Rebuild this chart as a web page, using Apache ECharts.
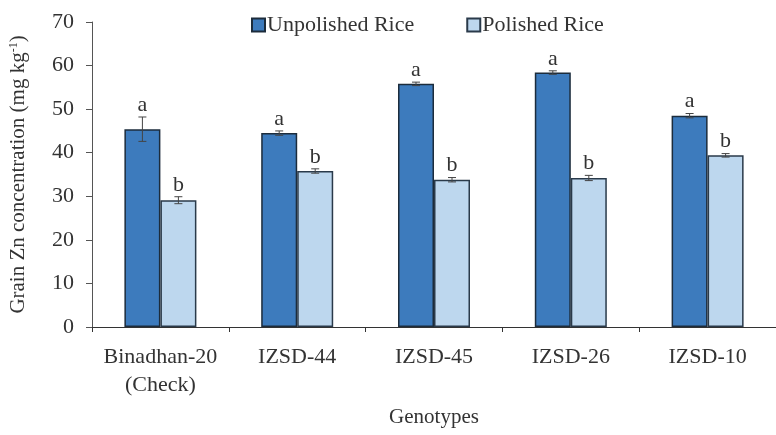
<!DOCTYPE html>
<html>
<head>
<meta charset="utf-8">
<script src="https://cdn.jsdelivr.net/npm/echarts@6/dist/echarts.min.js"></script>
<style>html,body{margin:0;padding:0;background:#fff}#c{width:776px;height:435px}</style>
</head>
<body>
<div id="c"></div>
<script>
var categories = ['Binadhan-20\n(Check)', 'IZSD-44', 'IZSD-45', 'IZSD-26', 'IZSD-10'];
var unpolished = [45.4, 44.5, 55.8, 58.4, 48.5];
var polished = [29.1, 35.8, 33.8, 34.2, 39.4];
var unpolishedErr = [2.8, 0.5, 0.4, 0.4, 0.5];
var polishedErr = [0.8, 0.5, 0.5, 0.6, 0.4];
var unpolishedLetters = ['a', 'a', 'a', 'a', 'a'];
var polishedLetters = ['b', 'b', 'b', 'b', 'b'];
var yTicks = [0, 10, 20, 30, 40, 50, 60, 70];

var FONT = '"Liberation Serif", "DejaVu Serif", serif';
var TXT = '#333';

function errSeries(vals, errs, letters, idx) {
  var data = vals.map(function (v, i) { return [i, v, errs[i]]; });
  return {
    type: 'custom',
    name: 'err' + idx,
    z: 10,
    renderItem: function (params, api) {
      var xi = api.value(0), v = api.value(1), e = api.value(2);
      var barW = 36;
      var center = api.coord([xi, v]);
      var cx = center[0] + (idx === 0 ? -barW / 2 : barW / 2);
      var top = api.coord([xi, v + e])[1];
      var bot = api.coord([xi, v - e])[1];
      var cap = 4;
      var st = { stroke: '#444', lineWidth: 1 };
      return {
        type: 'group',
        children: [
          { type: 'line', shape: { x1: cx, y1: top, x2: cx, y2: bot }, style: st },
          { type: 'line', shape: { x1: cx - cap, y1: top, x2: cx + cap, y2: top }, style: st },
          { type: 'line', shape: { x1: cx - cap, y1: bot, x2: cx + cap, y2: bot }, style: st },
          { type: 'text', x: cx, y: top - 1, style: { text: letters[params.dataIndex], fill: TXT, font: '22px ' + FONT, align: 'center', verticalAlign: 'bottom' } }
        ]
      };
    },
    data: data,
    silent: true,
    tooltip: { show: false }
  };
}

var chart = echarts.init(document.getElementById('c'));
chart.setOption({
  animation: false,
  textStyle: { fontFamily: FONT, color: TXT },
  legend: {
    top: 9,
    left: 246,
    itemGap: 52,
    itemWidth: 13,
    itemHeight: 13,
    icon: 'rect',
    textStyle: { fontFamily: FONT, fontSize: 22, color: TXT, padding: [0, 0, 0, -3] },
    data: ['Unpolished Rice', 'Polished Rice']
  },
  grid: { left: 91, top: 22, width: 689, bottom: 108, containLabel: false },
  xAxis: {
    type: 'category',
    data: categories,
    name: 'Genotypes',
    nameLocation: 'middle',
    nameGap: 80,
    nameTextStyle: { fontFamily: FONT, fontSize: 21, color: TXT },
    axisLine: { lineStyle: { color: '#333', width: 1.2 } },
    axisTick: { show: true, interval: 0, alignWithLabel: false, length: 5, lineStyle: { color: '#333' } },
    axisLabel: { interval: 0, hideOverlap: false, fontFamily: FONT, fontSize: 22, color: TXT, margin: 16, lineHeight: 28 }
  },
  yAxis: {
    type: 'value',
    min: 0, max: 70, interval: 10,
    name: 'Grain Zn concentration (mg kg{sup|-1})',
    nameLocation: 'middle',
    nameGap: 63,
    nameTextStyle: { fontFamily: FONT, fontSize: 21, color: TXT, rich: { sup: { fontSize: 12, verticalAlign: 'top', fontFamily: FONT, color: TXT, padding: [0, 0, 9, 0] } } },
    axisLine: { show: true, lineStyle: { color: '#555', width: 1 } },
    axisTick: { show: true, length: 6, lineStyle: { color: '#555' } },
    splitLine: { show: false },
    axisLabel: { fontFamily: FONT, fontSize: 22, color: TXT, margin: 18 }
  },
  series: [
    {
      name: 'Unpolished Rice', type: 'bar', data: unpolished, barWidth: 36, barGap: '0%',
      itemStyle: { color: '#3d7bbd', borderColor: '#1c2c3c', borderWidth: 1.5 }
    },
    {
      name: 'Polished Rice', type: 'bar', data: polished, barWidth: 36,
      itemStyle: { color: '#bdd7ee', borderColor: '#2a3a4a', borderWidth: 1.5 }
    },
    errSeries(unpolished, unpolishedErr, unpolishedLetters, 0),
    errSeries(polished, polishedErr, polishedLetters, 1)
  ]
});
</script>
</body>
</html>
